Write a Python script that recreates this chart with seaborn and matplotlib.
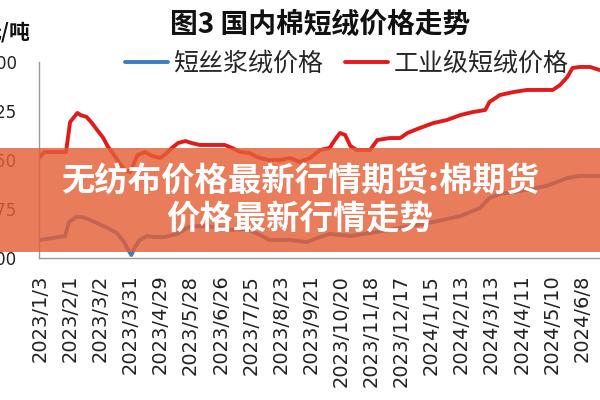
import matplotlib
matplotlib.use("Agg")
import matplotlib.pyplot as plt
import seaborn as sns
import pandas as pd
from matplotlib.patches import Rectangle

# ---------------- data ----------------
series_names = ["短丝浆绒价格", "工业级短绒价格"]

red_dates = ["2023-01-03", "2023-01-07", "2023-01-28", "2023-02-01", "2023-02-08", "2023-02-11",
             "2023-02-17", "2023-02-22", "2023-02-27", "2023-03-05", "2023-03-09", "2023-03-16",
             "2023-03-21", "2023-03-26", "2023-03-31", "2023-04-04", "2023-04-07", "2023-04-14",
             "2023-04-21", "2023-04-29", "2023-05-04", "2023-05-10", "2023-05-16", "2023-05-23",
             "2023-05-29", "2023-06-06", "2023-06-30", "2023-07-07", "2023-07-15", "2023-07-24",
             "2023-07-31", "2023-08-11", "2023-08-22", "2023-09-01", "2023-09-10", "2023-09-20",
             "2023-09-30", "2023-10-09", "2023-10-14", "2023-10-19", "2023-10-24", "2023-10-29",
             "2023-11-04", "2023-11-17", "2023-11-24", "2023-12-06", "2023-12-16", "2023-12-23",
             "2024-01-04", "2024-01-17", "2024-01-30", "2024-02-12", "2024-02-24", "2024-03-07",
             "2024-03-11", "2024-03-21", "2024-04-03", "2024-04-16", "2024-05-11", "2024-05-18",
             "2024-05-25", "2024-05-30", "2024-06-06", "2024-06-16", "2024-06-25"]
red_values = [3773, 3811, 3811, 4041, 4110, 4094, 4079, 4033, 3980, 3918, 3857, 3781,
              3719, 3673, 3658, 3735, 3788, 3811, 3781, 3765, 3796, 3842, 3880, 3895,
              3880, 3865, 3865, 3842, 3811, 3804, 3773, 3750, 3750, 3765, 3735, 3765,
              3827, 3842, 3903, 3957, 3941, 3857, 3827, 3827, 3903, 3918, 3918, 3957,
              3995, 4033, 4056, 4094, 4117, 4133, 4194, 4247, 4270, 4286, 4286, 4324,
              4385, 4454, 4462, 4462, 4439]

blue_dates = ["2023-01-03", "2023-01-15", "2023-01-27", "2023-01-31", "2023-02-07", "2023-02-12",
              "2023-02-18", "2023-02-27", "2023-03-09", "2023-03-18", "2023-03-25", "2023-03-29",
              "2023-04-01", "2023-04-04", "2023-04-09", "2023-04-16", "2023-04-23", "2023-05-03",
              "2023-05-15", "2023-05-26", "2023-06-06", "2023-06-22", "2023-07-05", "2023-07-21",
              "2023-08-05", "2023-08-12", "2023-09-01", "2023-09-17", "2023-09-27", "2023-10-09",
              "2023-10-29", "2023-11-17", "2023-12-16", "2024-01-17", "2024-02-12", "2024-03-02",
              "2024-03-11", "2024-03-21", "2024-04-09", "2024-05-05", "2024-05-25", "2024-06-06",
              "2024-06-25"]
blue_values = [3138, 3153, 3168, 3276, 3314, 3314, 3298, 3268, 3230, 3191, 3122, 3061,
               3023, 3077, 3138, 3168, 3161, 3161, 3184, 3237, 3245, 3237, 3214, 3222,
               3168, 3138, 3138, 3122, 3153, 3184, 3168, 3191, 3230, 3276, 3321, 3383,
               3459, 3490, 3513, 3551, 3612, 3628, 3628]

tick_labels = ["2023/1/3", "2023/2/1", "2023/3/2", "2023/3/31", "2023/4/29", "2023/5/28",
               "2023/6/26", "2023/7/25", "2023/8/23", "2023/9/21", "2023/10/20", "2023/11/18",
               "2023/12/17", "2024/1/15", "2024/2/13", "2024/3/13", "2024/4/11", "2024/5/10",
               "2024/6/8"]
y_ticks = [3000, 3375, 3750, 4125, 4500]

title_text = "图3 国内棉短绒价格走势"
unit_text = "元/吨"
banner_lines = ["无纺布价格最新行情期货:棉期货", "价格最新行情走势"]

# ---------------- frame ----------------
df = pd.concat([
    pd.DataFrame({"date": pd.to_datetime(blue_dates), "price": blue_values, "series": series_names[0]}),
    pd.DataFrame({"date": pd.to_datetime(red_dates), "price": red_values, "series": series_names[1]}),
], ignore_index=True)

sns.set_style("white")
plt.rcParams["font.family"] = ["Noto Sans CJK SC", "DejaVu Sans"]

fig = plt.figure(figsize=(6, 4), dpi=100)
fig.patch.set_facecolor("white")
ax = fig.add_axes([0.065, 0.355, 0.935, 0.49])

blue_c = "#3C7DC0"
red_c = "#E31A1C"
sns.lineplot(data=df, x="date", y="price", hue="series", hue_order=series_names,
             palette=[blue_c, red_c], linewidth=2.8, estimator=None, sort=False, ax=ax)

ax.set_xlim(pd.Timestamp("2023-01-02"), pd.Timestamp("2024-06-25 12:00"))
ax.set_ylim(y_ticks[0], y_ticks[-1])

ax.set_xticks(pd.to_datetime(tick_labels, format="%Y/%m/%d"))
ax.set_xticklabels(tick_labels, rotation=90, fontsize=14, family="DejaVu Sans", color="#222222")
ax.set_yticks(y_ticks)
ax.set_yticklabels([str(v) for v in y_ticks], fontsize=12, family="DejaVu Sans", color="#222222")
ax.tick_params(axis="x", length=0, pad=12)
ax.tick_params(axis="y", length=0, pad=16)
ax.set_xlabel("")
ax.set_ylabel("")

for s in ["top", "right"]:
    ax.spines[s].set_visible(False)
for s in ["left", "bottom"]:
    ax.spines[s].set_color("#999999")
    ax.spines[s].set_linewidth(1.0)

sns.move_legend(ax, "center", bbox_to_anchor=(0.549, 0.99), ncol=2, frameon=False,
                title=None, fontsize=18, handlelength=1.72, handletextpad=0.2,
                columnspacing=0.88)

fig.text(0.533, 0.94, title_text, ha="center", va="center", fontsize=20,
         fontweight="bold", color="#111111")
fig.text(0.05, 0.92, unit_text, ha="right", va="center", fontsize=15,
         fontweight="bold", color="#111111")

fig.add_artist(Rectangle((0, 0.37), 1, 0.26, transform=fig.transFigure,
                         facecolor="#E45F37", alpha=0.82, edgecolor="none", zorder=5))
fig.text(0.5, 0.545, banner_lines[0], ha="center", va="center", fontsize=24,
         fontweight="bold", color="white", zorder=6)
fig.text(0.5, 0.45, banner_lines[1], ha="center", va="center", fontsize=24,
         fontweight="bold", color="white", zorder=6)

fig.savefig("out.png", dpi=100)
